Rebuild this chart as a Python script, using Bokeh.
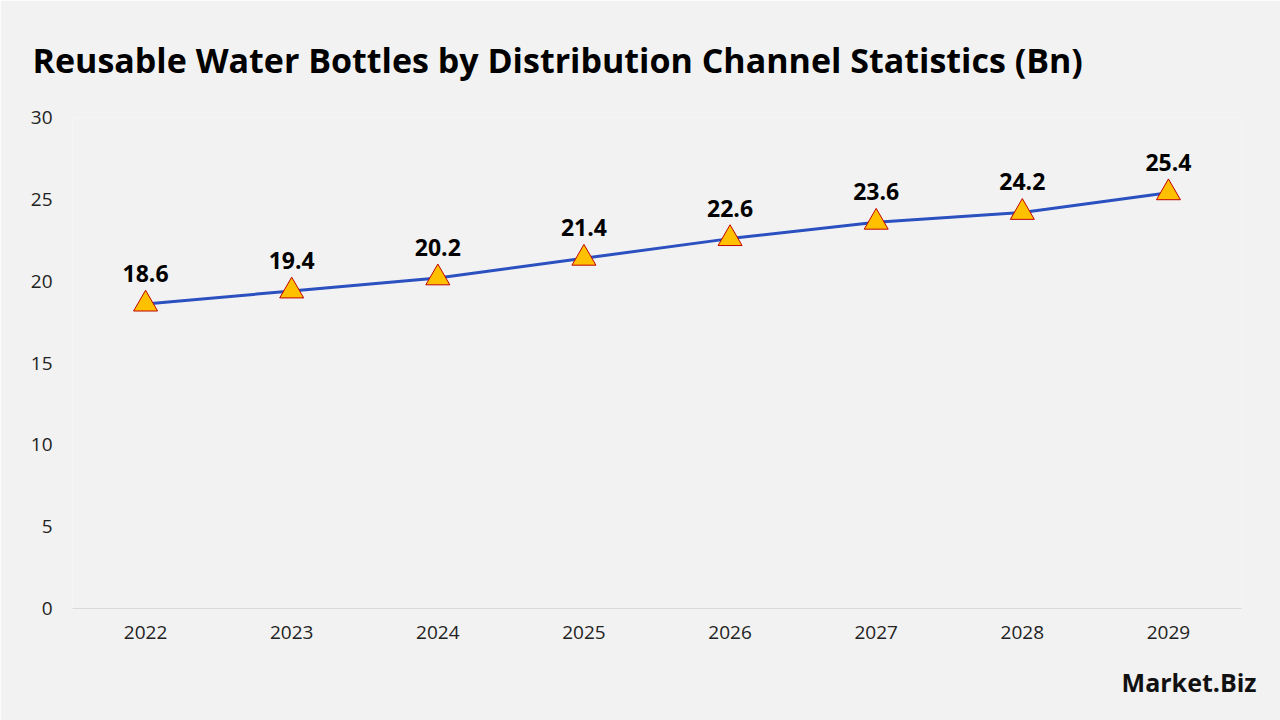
from bokeh.plotting import figure
from bokeh.models import Title, ColumnDataSource, Range1d, FactorRange, SingleIntervalTicker
from bokeh.embed import file_html
from bokeh.resources import INLINE
from bokeh.core.properties import value

years = ["2022", "2023", "2024", "2025", "2026", "2027", "2028", "2029"]
values = [18.6, 19.4, 20.2, 21.4, 22.6, 23.6, 24.2, 25.4]
labels = [f"{v:.1f}" for v in values]
title_text = "Reusable Water Bottles by Distribution Channel Statistics (Bn)"

FONT = "Open Sans"
BG = "#f2f2f2"

src = ColumnDataSource(dict(x=years, y=values, lab=labels))

p = figure(width=1280, height=720, x_range=FactorRange(*years), y_range=Range1d(0, 30),
           output_backend="svg", toolbar_location=None,
           background_fill_color=BG, border_fill_color=BG, outline_line_color=None,
           min_border_left=72, min_border_right=39, min_border_top=117, min_border_bottom=112)

p.title.text = title_text
p.title.text_font = FONT
p.title.text_font_size = "34px"
p.title.text_font_style = "bold"
p.title.text_color = "#000000"
p.title.offset = -40
p.title.standoff = 69

p.xgrid.visible = False
p.ygrid.visible = False

p.yaxis.ticker = SingleIntervalTicker(interval=5)
p.yaxis.axis_line_color = None
p.yaxis.major_tick_line_color = None
p.yaxis.minor_tick_line_color = None
p.yaxis.major_label_text_font = FONT
p.yaxis.major_label_text_font_size = "19px"
p.yaxis.major_label_text_color = "#222222"
p.yaxis.major_label_standoff = 14

p.xaxis.axis_line_color = "#d9d9d9"
p.xaxis.major_tick_line_color = None
p.xaxis.minor_tick_line_color = None
p.xaxis.major_label_text_font = FONT
p.xaxis.major_label_text_font_size = "19px"
p.xaxis.major_label_text_color = "#222222"
p.xaxis.major_label_standoff = 11

p.line("x", "y", source=src, line_color="#2b50c0", line_width=3)
p.scatter("x", "y", source=src, marker="triangle", size=24,
          fill_color="#ffc000", line_color="#c00000", line_width=1)
p.text("x", "y", text="lab", source=src, text_font=value(FONT), text_font_size="23px",
       text_font_style="bold", text_color="#000000", text_align="center",
       text_baseline="bottom", y_offset=-22)

logo = Title(text="Market.Biz", align="right", text_font=FONT, text_font_size="25px",
             text_font_style="bold", text_color="#111111", offset=-15, standoff=43)
p.add_layout(logo, "below")

open("out.html", "w").write(file_html(p, INLINE))
